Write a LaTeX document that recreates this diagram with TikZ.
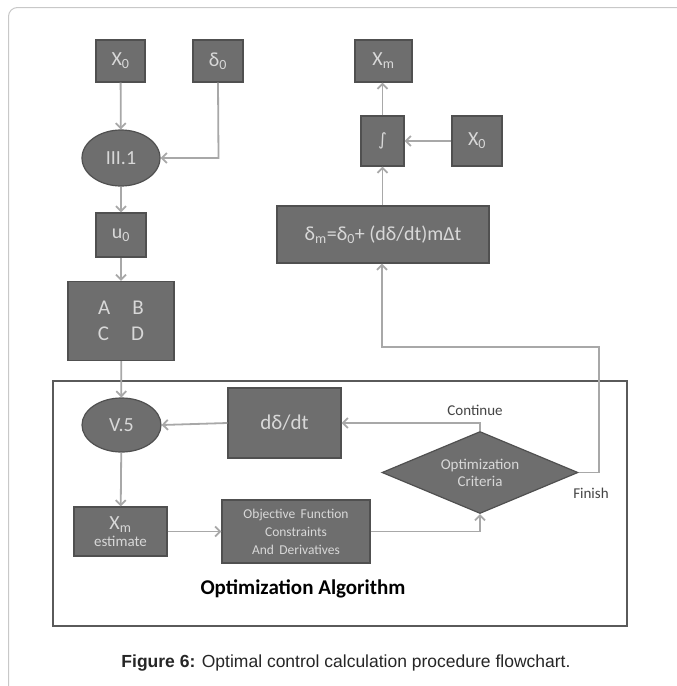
\documentclass[tikz,border=0pt]{standalone}
\usepackage{fontspec}
\setmainfont{Carlito}
\newfontfamily\capfont{Liberation Sans}
\newfontfamily\symfont{DejaVu Sans}
\usetikzlibrary{arrows.meta,shapes.geometric}
\definecolor{boxfill}{HTML}{6E6E6E}
\definecolor{boxline}{HTML}{505050}
\definecolor{boxtext}{HTML}{D8D8D8}
\definecolor{connline}{HTML}{A8A8A8}
\definecolor{framecol}{HTML}{5A5A5A}
\definecolor{outercol}{HTML}{C8C8C8}
\definecolor{lbltext}{HTML}{444444}
\tikzset{
  gbox/.style={draw=boxline, line width=1.2pt, fill=boxfill, text=boxtext,
    rectangle, inner sep=0pt, align=center, font=\fontsize{20}{24}\selectfont},
  goval/.style={draw=boxline, line width=1.2pt, fill=boxfill, text=boxtext,
    ellipse, inner sep=0pt, font=\fontsize{20}{24}\selectfont},
  gdia/.style={draw=boxline, line width=1.2pt, fill=boxfill, text=boxtext,
    diamond, aspect=2.39, inner sep=0pt, align=center, font=\fontsize{15}{18}\selectfont},
  conn/.style={draw=connline, line width=1.8pt, -{Straight Barb[length=5pt,width=10pt]}},
  lbl/.style={text=lbltext, font=\fontsize{15}{18}\selectfont, inner sep=0pt}
}
\begin{document}
\begin{tikzpicture}[x=1pt,y=1pt]
\useasboundingbox (0,0) rectangle (677,-686);
\fill[white] (0,0) rectangle (677,-686);
% outer page frame
\draw[outercol, line width=1pt, rounded corners=9pt] (8.5,-700) -- (8.5,-7.5) -- (700,-7.5);

% optimization frame
\node[draw=framecol, line width=2.5pt, minimum width=574pt, minimum height=245pt, inner sep=0pt] (frame) at (340,-503.5) {};
\node[font=\bfseries\fontsize{21}{25}\selectfont, text=black] (optalg) at (303,-589) {Optimization Algorithm};

% top-left chain
\node[gbox, minimum width=49pt, minimum height=42pt] (x0a) at (120.5,-61) {X\textsubscript{0}};
\node[gbox, minimum width=50pt, minimum height=42pt] (d0) at (218,-61) {δ\textsubscript{0}};
\node[goval, minimum width=78pt, minimum height=56pt] (iii) at (121,-158) {III.1};
\node[gbox, minimum width=50pt, minimum height=44pt] (u0) at (121,-235) {u\textsubscript{0}};
\node[gbox, minimum width=106pt, minimum height=79pt, font=\fontsize{21}{26}\selectfont] (abcd) at (121,-321) {A\hspace{1.05em}B\\C\hspace{1.05em}D};

% top-right chain
\node[gbox, minimum width=57pt, minimum height=42pt] (xm) at (383.5,-61) {X\textsubscript{m}};
\node[gbox, minimum width=43pt, minimum height=50pt] (int) at (382.5,-141) {{\symfont\fontsize{17}{20}\selectfont ∫}};
\node[gbox, minimum width=50pt, minimum height=50pt] (x0b) at (477,-141) {X\textsubscript{0}};
\node[gbox, minimum width=212pt, minimum height=57pt] (dm) at (383,-234.5) {δ\textsubscript{m}=δ\textsubscript{0}+ (dδ/dt)mΔt};

% optimization loop
\node[goval, minimum width=79pt, minimum height=54pt] (v5) at (121.5,-425) {V.5};
\node[gbox, minimum width=113pt, minimum height=70pt, font=\fontsize{21}{25}\selectfont] (ddt) at (284.5,-423) {dδ/dt};
\node[gdia, minimum width=196pt, minimum height=82pt] (crit) at (480,-472.5) {Optimization\\[-1pt]Criteria};
\node[gbox, minimum width=93pt, minimum height=49pt] (xme) at (120.5,-531.5) {X\textsubscript{m}\\[-7pt]{\fontsize{15}{17}\selectfont estimate}};
\node[gbox, minimum width=148pt, minimum height=63pt, font=\fontsize{13.5}{18}\selectfont] (obj) at (296,-531.5) {Objective\, Function\\Constraints\\And\, Derivatives};

\node[lbl] (cont) at (475,-410) {Continue};
\node[lbl] (fin) at (591,-493) {Finish};

\coordinate (dcorner) at (218.5,-158);
\coordinate (fb1) at (599,-472.5);
\coordinate (fb2) at (599,-347);
\coordinate (fb3) at (382,-347);
\coordinate (cc) at (480,-423);
\coordinate (oc) at (480,-531.5);

% connectors
\draw[conn] (x0a) -- (iii);
\draw[conn] (d0.south) -- (dcorner) -- (iii.east);
\draw[conn] (iii) -- (u0);
\draw[conn] (u0) -- (abcd);
\draw[conn] (abcd) -- (v5);
\draw[conn] (ddt.west) -- (v5.east);
\draw[conn] (crit.north) -- (cc) -- (ddt.east);
\draw[conn] (v5) -- (xme);
\draw[conn] (xme.east) -- (obj.west);
\draw[conn] (obj.east) -- (oc) -- (crit.south);
\draw[conn] (crit.east) -- (fb1) -- (fb2) -- (fb3) -- (dm.south -| fb3);
\draw[conn] (dm.north -| int) -- (int.south);
\draw[conn] (x0b.west) -- (int.east);
\draw[conn] (int.north) -- (xm.south -| int);

% caption
\node[font=\capfont\fontsize{17.5}{21}\selectfont, text=black!85, inner sep=0pt] (cap) at (346,-663) {\textbf{Figure 6:} Optimal control calculation procedure flowchart.};
\end{tikzpicture}
\end{document}
